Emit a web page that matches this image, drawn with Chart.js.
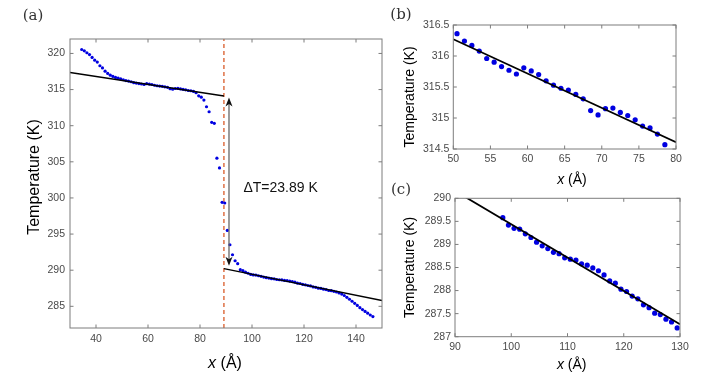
<!DOCTYPE html>
<html>
<head>
<meta charset="utf-8">
<script src="https://cdn.jsdelivr.net/npm/chart.js@4.4.0/dist/chart.umd.min.js"></script>
<style>
    html, body { margin: 0; padding: 0; background: #fff; }
    #wrap { position: relative; width: 706px; height: 390px; overflow: hidden; }
    canvas { position: absolute; }
</style>
</head>
<body>
<div id="wrap">
    <canvas id="chartA" style="left:0;top:0;width:400px;height:390px" width="400" height="390"></canvas>
    <canvas id="chartB" style="left:360px;top:0;width:346px;height:190px" width="346" height="190"></canvas>
    <canvas id="chartC" style="left:360px;top:180px;width:346px;height:210px" width="346" height="210"></canvas>
</div>
<script>
/* ===================== DATA ===================== */
// bin centres (Å) and temperatures (K) of the profile
const posA = [
    34.5, 35.5, 36.5, 37.5, 38.5, 39.5, 40.5, 41.5, 42.5, 43.5, 44.5, 45.5, 46.5, 47.5, 48.5, 49.5,
    50.5, 51.5, 52.5, 53.5, 54.5, 55.5, 56.5, 57.5, 58.5, 59.5, 60.5, 61.5, 62.5, 63.5, 64.5,
    65.5, 66.5, 67.5, 68.5, 69.5, 70.5, 71.5, 72.5, 73.5, 74.5, 75.5, 76.5, 77.5, 78.5,
    79.5, 80.5, 81.5, 82.5, 83.5, 84.5, 85.5, 86.5, 87.5, 88.5, 89.5, 90.5, 91.5, 92.5, 93.5,
    94.5, 95.5, 96.5, 97.5,
    98.5, 99.5, 100.5, 101.5, 102.5, 103.5, 104.5, 105.5, 106.5, 107.5, 108.5, 109.5, 110.5,
    111.5, 112.5, 113.5, 114.5, 115.5, 116.5, 117.5, 118.5, 119.5, 120.5, 121.5, 122.5, 123.5,
    124.5, 125.5, 126.5, 127.5, 128.5, 129.5,
    130.5, 131.5, 132.5, 133.5, 134.5, 135.5, 136.5, 137.5, 138.5, 139.5, 140.5, 141.5, 142.5,
    143.5, 144.5, 145.5, 146.5
];
const tempA = [
    320.55, 320.36, 320.10, 319.85, 319.45, 319.07, 318.80, 318.30, 318.00, 317.55, 317.24, 317.00,
    316.82, 316.68, 316.58, 316.47,
    316.36, 316.24, 316.17, 316.08, 315.96, 315.90, 315.83, 315.77, 315.71, 315.81, 315.76, 315.70,
    315.60, 315.53, 315.48, 315.45, 315.38, 315.31, 315.12, 315.05, 315.15, 315.16, 315.09, 315.04,
    314.97, 314.87, 314.84, 314.74, 314.57,
    314.14, 313.95, 313.55, 312.62, 311.93, 310.47, 310.33, 305.50, 304.15, 299.40, 299.30, 295.50,
    293.52, 292.14, 291.31, 290.90, 290.07, 289.93, 289.72,
    289.58, 289.42, 289.35, 289.33, 289.23, 289.15, 289.05, 288.97, 288.91, 288.83, 288.80, 288.71,
    288.68, 288.66, 288.58, 288.55, 288.49, 288.43, 288.34, 288.21, 288.16, 288.03, 287.98, 287.88,
    287.82, 287.69, 287.63, 287.51, 287.48, 287.38, 287.32, 287.19,
    287.17, 287.08, 286.98, 286.85, 286.70, 286.50, 286.25, 285.98, 285.70, 285.42, 285.12, 284.82,
    284.55, 284.30, 284.05, 283.80, 283.58
];

const xRangeA = [30, 150], yRangeA = [282, 322];
const xRangeB = [50, 80], yRangeB = [314.5, 316.5];
const xRangeC = [90, 130], yRangeC = [287, 290];

const xTicksA = [40, 60, 80, 100, 120, 140];
const yTicksA = [285, 290, 295, 300, 305, 310, 315, 320];
const xTicksB = [50, 55, 60, 65, 70, 75, 80];
const yTicksB = [314.5, 315, 315.5, 316, 316.5];
const xTicksC = [90, 100, 110, 120, 130];
const yTicksC = [287, 287.5, 288, 288.5, 289, 289.5, 290];

// linear fits on both sides of the interface
const fitLeftX = [30, 89.2], fitLeftT = [317.38, 314.10];
const fitRightX = [89.2, 150], fitRightT = [290.22, 285.82];
const fitBX = [50, 80], fitBT = [316.27, 314.61];
const fitCX = [90, 130], fitCT = [290.16, 287.27];

const interfaceX = 89.2;
const gapArrowX = 91.15, gapArrowT = [313.9, 290.6];
const gapLabel = "\u0394T=23.89 K", gapLabelAt = [96.7, 301.4];

// sample windows shown in the zoomed panels
const windowB = [50.5, 78.5];
const windowC = [98.5, 129.5];

/* ===================== STYLE ===================== */
const BLUE = "rgb(0,0,225)";
const FRAME = "#7d7d7d";
const TICK_TXT = "#4a4a4a";
const SANS = "'Liberation Sans', Arial, sans-serif";

const pts = (xs, ys) => xs.map((x, i) => ({ x, y: ys[i] }));
const inWindow = (w) => pts(posA, tempA).filter((p) => p.x >= w[0] && p.x <= w[1]);

/* ===================== FRAME / TITLES PLUGIN ===================== */
const framePlugin = {
    id: "frame",
    afterDatasetsDraw(chart, args, opts) {
        if (!opts.gap) return;
        const { ctx, scales: { x, y } } = chart;
        const px = x.getPixelForValue(gapArrowX);
        const y1 = y.getPixelForValue(gapArrowT[0]);
        const y2 = y.getPixelForValue(gapArrowT[1]);
        ctx.save();
        ctx.strokeStyle = "#666";
        ctx.lineWidth = 1.3;
        ctx.beginPath();
        ctx.moveTo(px, y1 + 6);
        ctx.lineTo(px, y2 - 6);
        ctx.stroke();
        ctx.fillStyle = "#111";
        const head = (tipY, dir) => {
            ctx.beginPath();
            ctx.moveTo(px, tipY);
            ctx.lineTo(px - 3.5, tipY + dir * 9);
            ctx.lineTo(px, tipY + dir * 6.5);
            ctx.lineTo(px + 3.5, tipY + dir * 9);
            ctx.closePath();
            ctx.fill();
        };
        head(y1, 1);
        head(y2, -1);
        ctx.font = "14px " + SANS;
        ctx.textAlign = "left";
        ctx.textBaseline = "middle";
        ctx.fillText(gapLabel, x.getPixelForValue(gapLabelAt[0]), y.getPixelForValue(gapLabelAt[1]));
        ctx.restore();
    },
    afterDraw(chart, args, opts) {
        const { ctx, chartArea: a, scales: { x, y } } = chart;
        ctx.save();
        ctx.strokeStyle = FRAME;
        ctx.lineWidth = 1;
        ctx.strokeRect(a.left, a.top, a.right - a.left, a.bottom - a.top);
        const tl = 3.5;
        ctx.beginPath();
        x.ticks.forEach((t) => {
            const p = x.getPixelForValue(t.value);
            ctx.moveTo(p, a.bottom); ctx.lineTo(p, a.bottom - tl);
            ctx.moveTo(p, a.top); ctx.lineTo(p, a.top + tl);
        });
        y.ticks.forEach((t) => {
            const p = y.getPixelForValue(t.value);
            ctx.moveTo(a.left, p); ctx.lineTo(a.left + tl, p);
            ctx.moveTo(a.right, p); ctx.lineTo(a.right - tl, p);
        });
        ctx.stroke();

        // y title
        ctx.fillStyle = "#000";
        ctx.textAlign = "center";
        ctx.textBaseline = "middle";
        ctx.save();
        ctx.translate(opts.yTitle[0], opts.yTitle[1]);
        ctx.rotate(-Math.PI / 2);
        ctx.font = opts.titleSize + "px " + SANS;
        ctx.fillText("Temperature (K)", 0, 0);
        ctx.restore();

        // x title, italic x
        const fItal = "italic " + opts.titleSize + "px " + SANS;
        const fReg = opts.titleSize + "px " + SANS;
        ctx.font = fItal;
        const w1 = ctx.measureText("x").width;
        ctx.font = fReg;
        const w2 = ctx.measureText(" (\u00C5)").width;
        const x0 = opts.xTitle[0] - (w1 + w2) / 2;
        ctx.textAlign = "left";
        ctx.font = fItal;
        ctx.fillText("x", x0, opts.xTitle[1]);
        ctx.font = fReg;
        ctx.fillText(" (\u00C5)", x0 + w1, opts.xTitle[1]);

        // panel letter
        ctx.fillStyle = "#333";
        ctx.textAlign = "center";
        ctx.font = "15px 'DejaVu Serif', serif";
        ctx.fillText(opts.panel, opts.panelAt[0], opts.panelAt[1]);
        ctx.restore();
    },
};

/* ===================== CHART BUILDER ===================== */
function makeChart(id, cfg) {
    const axis = (range, ticks, fitFn) => ({
        type: "linear",
        min: range[0],
        max: range[1],
        afterBuildTicks: (s) => { s.ticks = ticks.map((v) => ({ value: v })); },
        afterFit: fitFn,
        grid: { display: false, drawTicks: false },
        border: { display: false },
        ticks: {
            color: TICK_TXT,
            font: { family: SANS, size: 10.5 },
            padding: cfg.tickPad,
            autoSkip: false,
            maxRotation: 0,
            callback: (v) => String(v),
        },
    });

    return new Chart(document.getElementById(id), {
        type: "scatter",
        data: { datasets: cfg.datasets },
        options: {
            responsive: false,
            animation: false,
            events: [],
            layout: { padding: { top: cfg.padTop, right: cfg.padRight, left: 0, bottom: 0 } },
            plugins: {
                legend: { display: false },
                tooltip: { enabled: false },
                frame: cfg.frame,
            },
            scales: {
                x: axis(cfg.xRange, cfg.xTicks, (s) => { s.height = cfg.xAxisH; }),
                y: axis(cfg.yRange, cfg.yTicks, (s) => { s.width = cfg.yAxisW; }),
            },
        },
        plugins: [framePlugin],
    });
}

const lineSet = (data, width, order) => ({
    data, showLine: true, borderColor: "#000", borderWidth: width,
    pointRadius: 0, order,
});
const dotSet = (data, r, order) => ({
    data, pointRadius: r, pointBackgroundColor: BLUE, pointBorderWidth: 0, order,
});

/* ===================== (a) ===================== */
makeChart("chartA", {
    xRange: xRangeA, yRange: yRangeA, xTicks: xTicksA, yTicks: yTicksA,
    padTop: 39, padRight: 18, xAxisH: 62, yAxisW: 70, tickPad: 5,
    datasets: [
        lineSet(pts(fitLeftX, fitLeftT), 1.5, 1),
        lineSet(pts(fitRightX, fitRightT), 1.5, 1),
        dotSet(pts(posA, tempA), 1.6, 2),
        {
            data: pts([interfaceX, interfaceX], yRangeA),
            showLine: true, borderColor: "rgb(217,90,40)", borderWidth: 1.3,
            borderDash: [4, 3], pointRadius: 0, order: 3,
        },
    ],
    frame: { gap: true, panel: "(a)", panelAt: [33, 16], yTitle: [35, 177], xTitle: [225, 364], titleSize: 16 },
});

/* ===================== (b) ===================== */
makeChart("chartB", {
    xRange: xRangeB, yRange: yRangeB, xTicks: xTicksB, yTicks: yTicksB,
    padTop: 25, padRight: 30, xAxisH: 41, yAxisW: 93.3, tickPad: 4,
    datasets: [
        lineSet(pts(fitBX, fitBT), 1.8, 1),
        dotSet(inWindow(windowB), 2.6, 2),
    ],
    frame: { gap: false, panel: "(b)", panelAt: [41, 15], yTitle: [50, 97], xTitle: [212, 180], titleSize: 14 },
});

/* ===================== (c) ===================== */
makeChart("chartC", {
    xRange: xRangeC, yRange: yRangeC, xTicks: xTicksC, yTicks: yTicksC,
    padTop: 18.3, padRight: 26, xAxisH: 53.3, yAxisW: 95, tickPad: 4,
    datasets: [
        lineSet(pts(fitCX, fitCT), 1.8, 1),
        dotSet(inWindow(windowC), 2.6, 2),
    ],
    frame: { gap: false, panel: "(c)", panelAt: [41, 10], yTitle: [50, 87.5], xTitle: [211.7, 185], titleSize: 14 },
});
</script>
</body>
</html>
